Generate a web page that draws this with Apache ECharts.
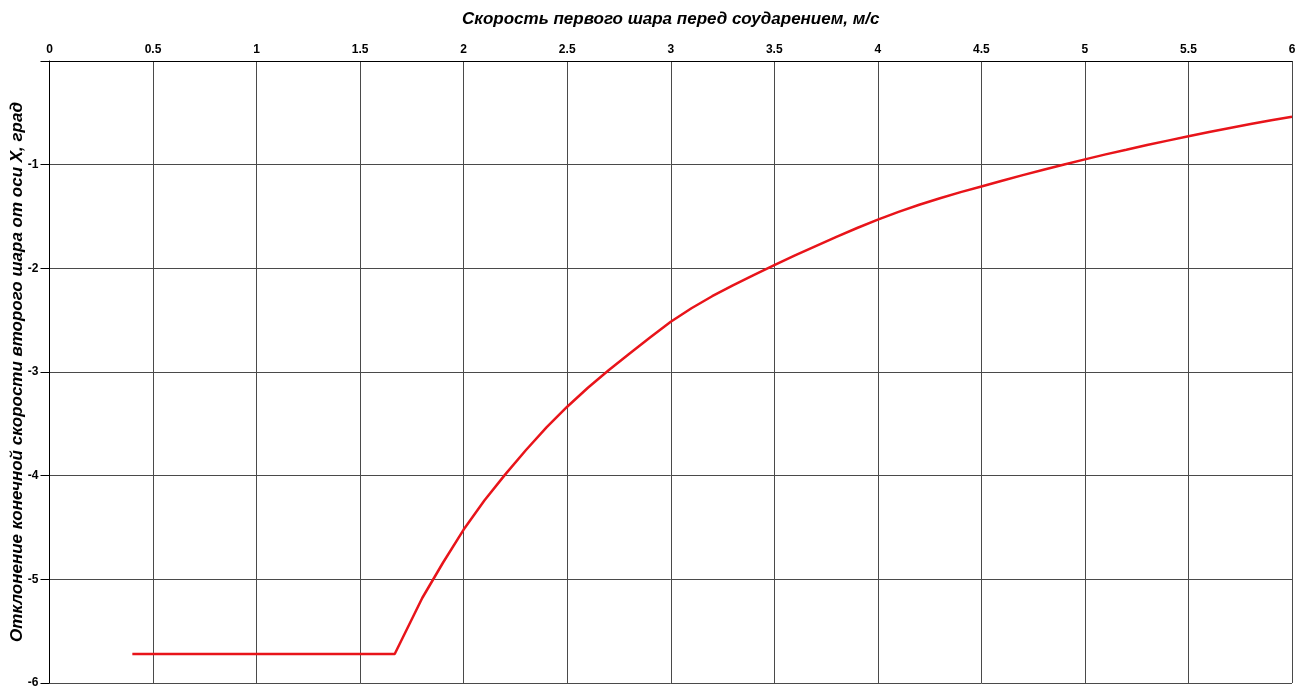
<!DOCTYPE html>
<html>
<head>
<meta charset="utf-8">
<script src="https://cdn.jsdelivr.net/npm/echarts@6/dist/echarts.min.js"></script>
<style>
  html, body { margin: 0; padding: 0; background: #fff; }
  #chart { width: 1307px; height: 691px; }
</style>
</head>
<body>
<div id="chart"></div>
<script>
// Speed of the first ball before collision, m/s
const speeds = [0.4, 1.667, 1.8, 1.9, 2.0, 2.1, 2.2, 2.3, 2.4, 2.5, 2.6, 2.7, 2.8, 2.9, 3.0,
  3.1, 3.2, 3.3, 3.4, 3.5, 3.6, 3.7, 3.8, 3.9, 4.0, 4.1, 4.2, 4.3, 4.4, 4.5, 4.6, 4.7, 4.8,
  4.9, 5.0, 5.1, 5.2, 5.3, 5.4, 5.5, 5.6, 5.7, 5.8, 5.9, 6.0];
// Deviation of the second ball's final velocity from the X axis, degrees
const angles = [-5.72, -5.72, -5.18, -4.84, -4.52, -4.24, -3.99, -3.755, -3.535, -3.335, -3.152,
  -2.983, -2.823, -2.667, -2.515, -2.385, -2.269, -2.164, -2.065, -1.97, -1.876, -1.785,
  -1.697, -1.611, -1.53, -1.456, -1.387, -1.324, -1.265, -1.21, -1.155, -1.101, -1.049,
  -0.998, -0.949, -0.901, -0.857, -0.811, -0.768, -0.726, -0.685, -0.646, -0.608, -0.572, -0.537];

const xTitle = 'Скорость первого шара перед соударением, м/с';
const yTitle = 'Отклонение конечной скорости второго шара от оси X, град';

const points = speeds.map((v, i) => [v, angles[i]]);

const chart = echarts.init(document.getElementById('chart'), null, { renderer: 'canvas' });
const font = 'Liberation Sans, Arial, sans-serif';
const gridColor = '#4a4a4a';

chart.setOption({
  animation: false,
  backgroundColor: '#ffffff',
  grid: {
    left: 49.5, right: 15, top: 61, bottom: 8,
    containLabel: false,
    outerBoundsMode: 'none'
  },
  xAxis: {
    type: 'value',
    position: 'top',
    min: 0, max: 6, interval: 0.5,
    name: xTitle,
    nameLocation: 'middle',
    nameGap: 33,
    nameTextStyle: { fontFamily: font, fontSize: 17, fontWeight: 'bold', fontStyle: 'italic', color: '#000' },
    axisLine: { show: true, onZero: false, lineStyle: { color: '#000', width: 1 } },
    axisTick: { show: false },
    axisLabel: { fontFamily: font, fontSize: 12, fontWeight: 'bold', color: '#000', margin: 5 },
    splitLine: { show: true, lineStyle: { color: gridColor, width: 1 } }
  },
  yAxis: {
    type: 'value',
    min: -6, max: 0, interval: 1,
    name: yTitle,
    nameLocation: 'middle',
    nameGap: 24,
    nameMoveOverlap: false,
    nameRotate: 90,
    nameTextStyle: { fontFamily: font, fontSize: 17, fontWeight: 'bold', fontStyle: 'italic', color: '#000' },
    axisLine: { show: true, onZero: false, lineStyle: { color: '#000', width: 1 } },
    axisTick: { show: true, inside: false, length: 9, lineStyle: { color: '#000' } },
    axisLabel: {
      fontFamily: font, fontSize: 12, fontWeight: 'bold', color: '#000', margin: 11,
      formatter: v => (v === 0 ? '' : String(v))
    },
    splitLine: { show: true, lineStyle: { color: gridColor, width: 1 } }
  },
  series: [{
    type: 'line',
    data: points,
    showSymbol: false,
    smooth: false,
    lineStyle: { color: '#e8141a', width: 2.5 },
    z: 5
  }]
});
</script>
</body>
</html>
